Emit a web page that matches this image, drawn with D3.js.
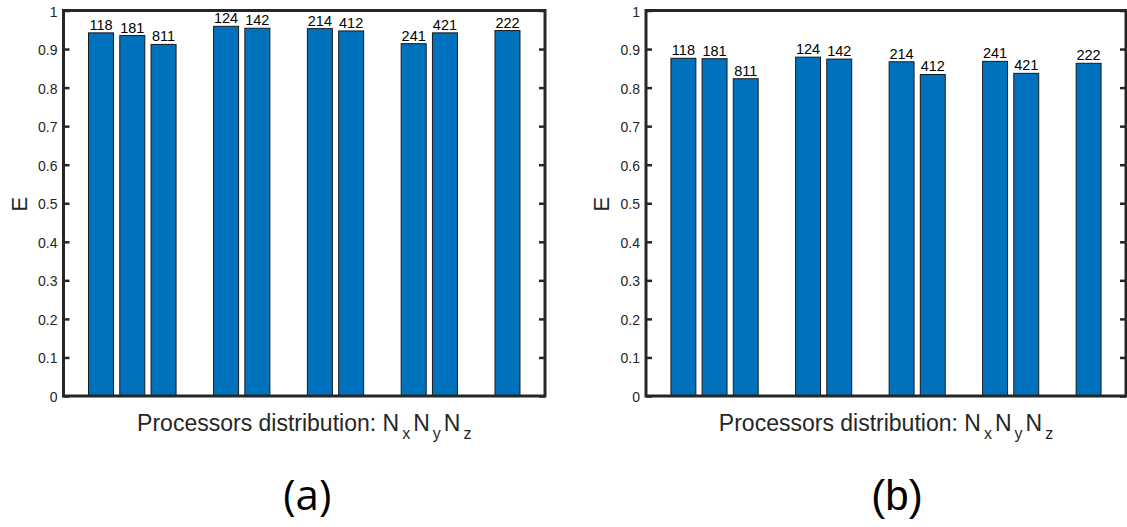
<!DOCTYPE html>
<html>
<head>
<meta charset="utf-8">
<script src="https://cdn.jsdelivr.net/npm/d3@7"></script>
<style>
  body { margin: 0; background: #fff; }
  svg { display: block; font-family: "Liberation Sans", Arial, sans-serif; }
</style>
</head>
<body>
<svg id="chart" width="1127" height="527"></svg>
<script>
// processor distributions NxNyNz, grouped by total
const categories = ["118", "181", "811", "124", "142", "214", "412", "241", "421", "222"];
const groupSizes = [3, 2, 2, 2, 1];
const effA = [0.942, 0.935, 0.912, 0.959, 0.954, 0.953, 0.947, 0.914, 0.942, 0.948];
const effB = [0.876, 0.875, 0.823, 0.879, 0.874, 0.867, 0.834, 0.868, 0.837, 0.863];
const yTicks = [0, 0.1, 0.2, 0.3, 0.4, 0.5, 0.6, 0.7, 0.8, 0.9, 1];
const yTickLabels = ["0", "0.1", "0.2", "0.3", "0.4", "0.5", "0.6", "0.7", "0.8", "0.9", "1"];

// slot index for each bar: consecutive inside a group, one empty slot between groups
const slots = [];
let s = 1;
groupSizes.forEach(n => {
  for (let i = 0; i < n; i++) slots.push(s++);
  s++;
});

const svg = d3.select("#chart");
const axisColor = "#262626";

function drawPanel(values, left, right, tag, tagShift, tagFont) {
  const top = 10.5, bottom = 396;
  const x = d3.scaleLinear().domain([-0.2, 15.2]).range([left, right]);
  const y = d3.scaleLinear().domain([0, 1]).range([bottom, top]);
  const bw = (x(1) - x(0)) * 0.8;

  const g = svg.append("g");
  const data = values.map((v, i) => ({ v, label: categories[i], pos: slots[i] }));

  g.selectAll("rect.bar")
    .data(data)
    .enter()
    .append("rect")
    .attr("class", "bar")
    .attr("x", d => x(d.pos) - bw / 2)
    .attr("y", d => y(d.v))
    .attr("width", bw)
    .attr("height", d => y(0) - y(d.v))
    .attr("fill", "#0072BD")
    .attr("stroke", "#1a1a1a")
    .attr("stroke-width", 1);

  g.selectAll("text.val")
    .data(data)
    .enter()
    .append("text")
    .attr("class", "val")
    .attr("x", d => x(d.pos))
    .attr("y", d => y(d.v) - 3)
    .attr("text-anchor", "middle")
    .attr("font-size", 14.5)
    .attr("fill", "#000")
    .text(d => d.label);

  // inward ticks on both sides
  const yAxisL = g.append("g")
    .attr("transform", `translate(${left},0)`)
    .call(d3.axisRight(y).tickValues(yTicks).tickSize(6).tickFormat(() => ""));
  const yAxisR = g.append("g")
    .attr("transform", `translate(${right},0)`)
    .call(d3.axisLeft(y).tickValues(yTicks).tickSize(6).tickFormat(() => ""));
  [yAxisL, yAxisR].forEach(a => {
    a.select(".domain").remove();
    a.selectAll(".tick line").attr("stroke", axisColor).attr("stroke-width", 2.5);
  });

  g.selectAll("text.ytl")
    .data(yTicks)
    .enter()
    .append("text")
    .attr("class", "ytl")
    .attr("x", left - 6)
    .attr("y", d => y(d) + 6)
    .attr("text-anchor", "end")
    .attr("font-size", 14)
    .attr("fill", axisColor)
    .text((d, i) => yTickLabels[i]);

  // box
  g.append("rect")
    .attr("x", left)
    .attr("y", top)
    .attr("width", right - left)
    .attr("height", bottom - top)
    .attr("fill", "none")
    .attr("stroke", axisColor)
    .attr("stroke-width", 3);

  g.append("text")
    .attr("transform", `translate(${left - 37},${(top + bottom) / 2 + 1}) rotate(-90)`)
    .attr("text-anchor", "middle")
    .attr("font-size", 22)
    .attr("fill", axisColor)
    .text("E");

  // x label with subscripts
  const xl = g.append("text")
    .attr("x", (left + right) / 2)
    .attr("y", 431)
    .attr("text-anchor", "middle")
    .attr("font-size", 23)
    .attr("fill", axisColor);
  xl.append("tspan").text("Processors distribution: N");
  xl.append("tspan").attr("dy", 8).attr("dx", 3).attr("font-size", 16).text("x");
  xl.append("tspan").attr("dy", -8).attr("dx", 3).text("N");
  xl.append("tspan").attr("dy", 8).attr("dx", 3).attr("font-size", 16).text("y");
  xl.append("tspan").attr("dy", -8).attr("dx", 3).text("N");
  xl.append("tspan").attr("dy", 8).attr("dx", 3).attr("font-size", 16).text("z");

  svg.append("text")
    .attr("x", (left + right) / 2 + tagShift)
    .attr("y", 510)
    .attr("text-anchor", "middle")
    .attr("font-size", 42)
    .attr("font-family", tagFont)
    .attr("fill", "#000")
    .text(tag);
}

drawPanel(effA, 63.5, 545, "(a)", 3, "'Open Sans', sans-serif");
drawPanel(effB, 646, 1126, "(b)", 11, "'Liberation Sans', Arial, sans-serif");
</script>
</body>
</html>
